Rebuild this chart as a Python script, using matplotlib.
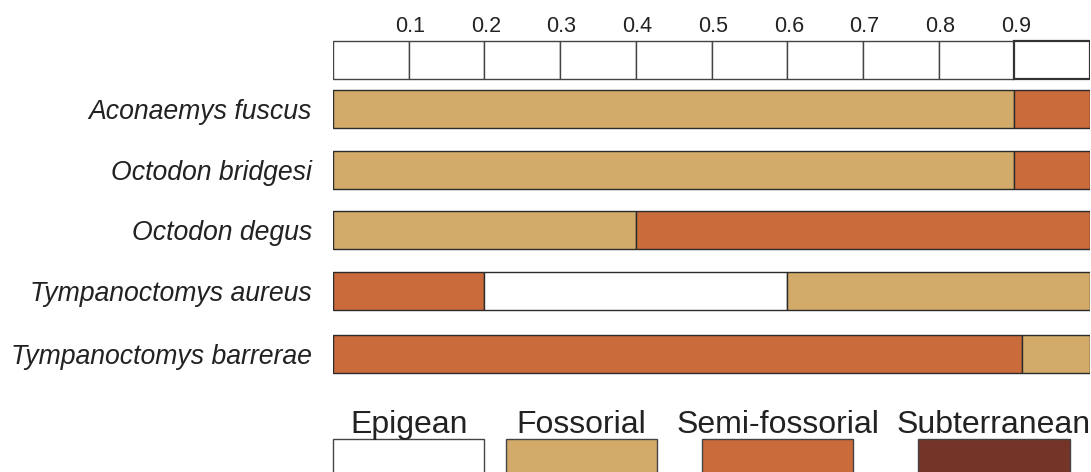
import matplotlib
matplotlib.use("Agg")
import matplotlib.pyplot as plt
from matplotlib.patches import Rectangle

plt.rcParams["font.family"] = ["Liberation Sans", "DejaVu Sans"]

# Habitat categories and their colours
categories = ["Epigean", "Fossorial", "Semi-fossorial", "Subterranean"]
colors = {"Epigean": "#FFFFFF", "Fossorial": "#D2AA69",
          "Semi-fossorial": "#C96B3A", "Subterranean": "#743428"}

# Species and their habitat-use proportions (segments left to right)
species = ["Aconaemys fuscus", "Octodon bridgesi", "Octodon degus",
           "Tympanoctomys aureus", "Tympanoctomys barrerae"]
segments = [
    [("Fossorial", 0.90), ("Semi-fossorial", 0.10)],
    [("Fossorial", 0.90), ("Semi-fossorial", 0.10)],
    [("Fossorial", 0.40), ("Semi-fossorial", 0.60)],
    [("Semi-fossorial", 0.20), ("Epigean", 0.40), ("Fossorial", 0.40)],
    [("Semi-fossorial", 0.91), ("Fossorial", 0.09)],
]

# Scale bar cells and labels
scale_step = 0.1
scale_labels = ["0.1", "0.2", "0.3", "0.4", "0.5", "0.6", "0.7", "0.8", "0.9"]

W, H = 1091, 472
fig = plt.figure(figsize=(W / 100, H / 100), dpi=100)
ax = fig.add_axes([333 / W, 0, 757 / W, 1])
ax.set_xlim(0, 1)
ax.set_ylim(H, 0)  # vertical layout in pixel rows, top to bottom

bar_h = 38
edge = "#2b2b2b"

# Scale bar across the top
scale_y = 60
n_cells = round(1 / scale_step)
for i in range(n_cells):
    last = i == n_cells - 1
    ax.barh(scale_y, scale_step, left=i * scale_step, height=bar_h,
            color="white", edgecolor="#333333" if last else "#444444",
            linewidth=1.6 if last else 1.0, zorder=3 if last else 2)
for i, lab in enumerate(scale_labels):
    ax.text((i + 1) * scale_step + 0.002, 31.5, lab, ha="center",
            va="baseline", fontsize=15.5, color="#222222")

# Stacked habitat bars
row_y = [109, 170, 230, 291, 354]
for y, segs in zip(row_y, segments):
    left = 0.0
    for cat, val in segs:
        ax.barh(y, val, left=left, height=bar_h, color=colors[cat],
                edgecolor=edge, linewidth=1.0, zorder=2)
        left += val

ax.set_yticks(row_y, labels=species)
for t in ax.get_yticklabels():
    t.set_fontstyle("italic")
    t.set_fontsize(19.2)
    t.set_color("#222222")
ax.tick_params(axis="y", length=0, pad=15)
ax.set_xticks([])
for s in ax.spines.values():
    s.set_visible(False)
ax.patch.set_alpha(0)

# Legend swatches along the bottom
legend_left = [0.0, 0.2285, 0.4875, 0.773]
legend_w = 0.2
for cat, x0 in zip(categories, legend_left):
    ax.add_patch(Rectangle((x0, 439), legend_w, 60, facecolor=colors[cat],
                           edgecolor="#444444", linewidth=1.0, clip_on=False))
    ax.text(x0 + legend_w / 2, 433, cat, ha="center", va="baseline",
            fontsize=23, color="#222222", clip_on=False)

fig.savefig("out.png", dpi=100)
